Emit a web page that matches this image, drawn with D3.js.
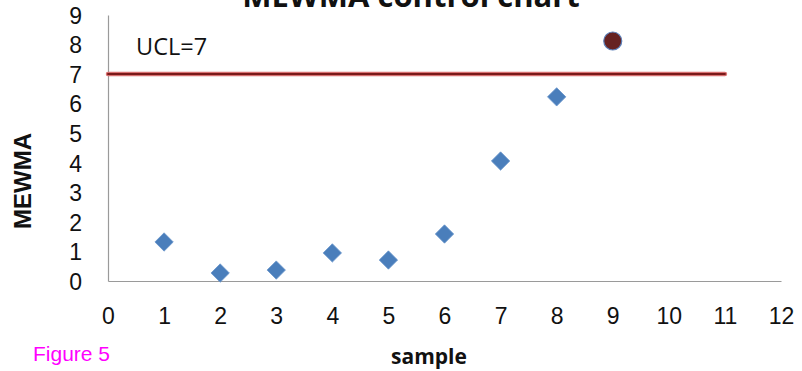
<!DOCTYPE html>
<html>
<head>
<meta charset="utf-8">
<script src="https://cdn.jsdelivr.net/npm/d3@7"></script>
<style>
  html, body { margin: 0; padding: 0; background: #fff; }
  svg { display: block; }
</style>
</head>
<body>
<svg id="chart" width="802" height="371"></svg>
<script>
// MEWMA statistic per sample
const samples = [1, 2, 3, 4, 5, 6, 7, 8];
const mewma   = [1.32, 0.27, 0.37, 0.95, 0.71, 1.59, 4.06, 6.23];
// Out-of-control sample
const outSamples = [9];
const outValues  = [8.12];
// Upper control limit
const ucl = 7;
const uclRange = [0, 11];
const xTicks = [0, 1, 2, 3, 4, 5, 6, 7, 8, 9, 10, 11, 12];
const yTicks = [0, 1, 2, 3, 4, 5, 6, 7, 8, 9];

const svg = d3.select("#chart");
const x = d3.scaleLinear().domain([0, 12]).range([108, 781]);
const y = d3.scaleLinear().domain([0, 9]).range([281, 15]);

const tickFont = "Liberation Sans, Arial, sans-serif";

// Axes
const xAxis = svg.append("g").attr("transform", `translate(0,${y(0)})`)
  .call(d3.axisBottom(x).tickValues(xTicks).tickSize(0).tickPadding(27));
xAxis.select(".domain").attr("stroke", "#9a9a9a").attr("stroke-width", 1.2);
xAxis.selectAll("text").attr("font-family", tickFont)
  .attr("font-size", 23).attr("fill", "#111");

const yAxis = svg.append("g").attr("transform", `translate(${x(0)},0)`)
  .call(d3.axisLeft(y).tickValues(yTicks).tickSize(0).tickPadding(26));
yAxis.select(".domain").attr("stroke", "#9a9a9a").attr("stroke-width", 1.2);
yAxis.selectAll("text").attr("font-family", tickFont)
  .attr("font-size", 23).attr("fill", "#111").attr("dy", "0.36em");

// UCL line: dark red core with a soft red edge
svg.append("line")
  .attr("x1", x(uclRange[0])).attr("x2", x(uclRange[1]))
  .attr("y1", y(ucl)).attr("y2", y(ucl))
  .attr("stroke", "#d87070").attr("stroke-width", 4.5).attr("stroke-linecap", "round");
svg.append("line")
  .attr("x1", x(uclRange[0])).attr("x2", x(uclRange[1]))
  .attr("y1", y(ucl)).attr("y2", y(ucl))
  .attr("stroke", "#7a1a1a").attr("stroke-width", 2).attr("stroke-linecap", "round");

svg.append("text").attr("x", 136).attr("y", 55)
  .attr("font-family", "Open Sans, sans-serif").attr("font-size", 23.5)
  .attr("fill", "#111").text(`UCL=${ucl}`);

// In-control points (diamonds)
const diamond = d3.symbol().type(d3.symbolDiamond2).size(215);
svg.append("g").selectAll("path")
  .data(samples.map((s, i) => [s, mewma[i]]))
  .join("path")
  .attr("d", diamond)
  .attr("transform", d => `translate(${x(d[0])},${y(d[1])})`)
  .attr("fill", "#4a7ebb").attr("stroke", "#6a96cc").attr("stroke-width", 0.8);

// Out-of-control point
svg.append("g").selectAll("circle")
  .data(outSamples.map((s, i) => [s, outValues[i]]))
  .join("circle")
  .attr("cx", d => x(d[0])).attr("cy", d => y(d[1]))
  .attr("r", 9)
  .attr("fill", "#662222").attr("stroke", "#5a7fb8").attr("stroke-width", 1.2);

// Titles
svg.append("text").attr("x", 411).attr("y", 7).attr("text-anchor", "middle")
  .attr("font-family", "Open Sans, sans-serif").attr("font-weight", "bold")
  .attr("font-size", 31).attr("fill", "#111").text("MEWMA control chart");

svg.append("text").attr("transform", "translate(31,181) rotate(-90)")
  .attr("text-anchor", "middle")
  .attr("font-family", "Liberation Sans, Arial, sans-serif").attr("font-weight", "bold")
  .attr("font-size", 24).attr("fill", "#111").text("MEWMA");

svg.append("text").attr("x", 429).attr("y", 364).attr("text-anchor", "middle")
  .attr("font-family", "Open Sans, sans-serif").attr("font-weight", "bold")
  .attr("font-size", 21).attr("fill", "#111").text("sample");

svg.append("text").attr("x", 33).attr("y", 361)
  .attr("font-family", "Liberation Sans, Arial, sans-serif")
  .attr("font-size", 21).attr("fill", "#ff00ff").text("Figure 5");
</script>
</body>
</html>
